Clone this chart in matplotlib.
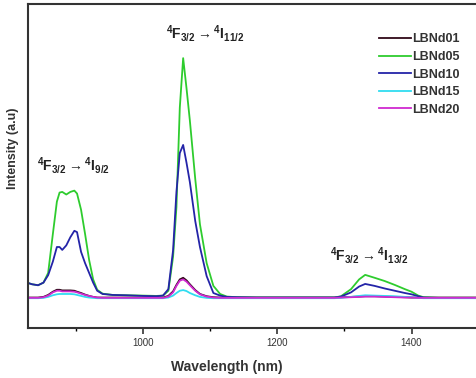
import matplotlib
matplotlib.use("Agg")
import matplotlib.pyplot as plt
from matplotlib.ticker import MultipleLocator

plt.rcParams["font.family"] = ["Liberation Sans", "DejaVu Sans"]
plt.rcParams["mathtext.fontset"] = "custom"
plt.rcParams["mathtext.rm"] = "Liberation Sans"
plt.rcParams["mathtext.bf"] = "Liberation Sans:bold"

# wavelength grid (nm)
wl = [829, 835, 844, 852, 859, 866, 872, 876, 880, 886, 892, 898, 902, 908, 914,
      920, 926, 932, 940, 955, 975, 1000, 1020, 1030, 1038, 1045, 1050, 1055, 1060,
      1065, 1070, 1078, 1085, 1095, 1105, 1115, 1125, 1140, 1170, 1200, 1250, 1285,
      1295, 1310, 1322, 1331, 1345, 1360, 1375, 1390, 1400, 1410, 1418, 1440, 1470, 1496]

lbnd05 = [0.139, 0.135, 0.132, 0.140, 0.170, 0.290, 0.390, 0.418, 0.420, 0.412, 0.420, 0.424, 0.415, 0.365, 0.290,
          0.210, 0.150, 0.118, 0.106, 0.102, 0.101, 0.100, 0.099, 0.100, 0.115, 0.220, 0.373, 0.680, 0.833,
          0.740, 0.640, 0.460, 0.320, 0.200, 0.130, 0.105, 0.097, 0.095, 0.094, 0.094, 0.094, 0.094,
          0.098, 0.120, 0.150, 0.164, 0.155, 0.145, 0.133, 0.120, 0.112, 0.100, 0.095, 0.093, 0.093, 0.093]

lbnd10 = [0.139, 0.135, 0.132, 0.140, 0.163, 0.205, 0.250, 0.250, 0.241, 0.255, 0.280, 0.300, 0.296, 0.235, 0.200,
          0.170, 0.140, 0.115, 0.105, 0.102, 0.101, 0.099, 0.098, 0.100, 0.120, 0.240, 0.420, 0.540, 0.565,
          0.510, 0.450, 0.330, 0.250, 0.160, 0.108, 0.100, 0.096, 0.095, 0.094, 0.094, 0.094, 0.094,
          0.097, 0.110, 0.128, 0.136, 0.130, 0.122, 0.115, 0.108, 0.104, 0.098, 0.094, 0.093, 0.093, 0.093]

lbnd20 = [0.093, 0.093, 0.093, 0.095, 0.100, 0.110, 0.115, 0.115, 0.113, 0.113, 0.113, 0.112, 0.110, 0.106, 0.102,
          0.099, 0.096, 0.094, 0.093, 0.093, 0.093, 0.093, 0.093, 0.093, 0.097, 0.110, 0.130, 0.146, 0.150,
          0.143, 0.132, 0.115, 0.104, 0.097, 0.094, 0.093, 0.093, 0.093, 0.093, 0.093, 0.093, 0.093,
          0.094, 0.095, 0.096, 0.097, 0.097, 0.096, 0.095, 0.094, 0.094, 0.093, 0.093, 0.093, 0.093, 0.093]

lbnd01 = [0.094, 0.094, 0.094, 0.096, 0.102, 0.112, 0.118, 0.118, 0.116, 0.116, 0.116, 0.115, 0.112, 0.108, 0.103,
          0.099, 0.096, 0.094, 0.094, 0.094, 0.094, 0.094, 0.094, 0.094, 0.099, 0.113, 0.133, 0.150, 0.155,
          0.147, 0.135, 0.117, 0.105, 0.098, 0.095, 0.094, 0.094, 0.094, 0.094, 0.094, 0.094, 0.094,
          0.095, 0.096, 0.097, 0.098, 0.098, 0.097, 0.096, 0.095, 0.094, 0.094, 0.094, 0.094, 0.094, 0.094]

lbnd15 = [0.092, 0.092, 0.092, 0.093, 0.096, 0.101, 0.104, 0.105, 0.105, 0.105, 0.105, 0.104, 0.102, 0.099, 0.096,
          0.094, 0.093, 0.092, 0.092, 0.092, 0.092, 0.092, 0.092, 0.092, 0.094, 0.100, 0.108, 0.115, 0.117,
          0.114, 0.108, 0.101, 0.096, 0.093, 0.092, 0.092, 0.092, 0.092, 0.092, 0.092, 0.092, 0.092,
          0.093, 0.096, 0.099, 0.101, 0.100, 0.099, 0.098, 0.096, 0.095, 0.093, 0.092, 0.092, 0.092, 0.092]

labels = ["LBNd01", "LBNd05", "LBNd10", "LBNd15", "LBNd20"]
series = [lbnd01, lbnd05, lbnd10, lbnd15, lbnd20]
colors = ["#300818", "#2ecc2e", "#2424a8", "#30dcf0", "#d02ad0"]

fig = plt.figure(figsize=(4.76, 3.78), dpi=100)
ax = fig.add_axes([28 / 476, 50 / 378, 1 - 28 / 476, 324 / 378])

for y, lab, c in zip(series, labels, colors):
    ax.plot(wl, y, color=c, lw=1.3, label=lab)

ax.set_xlim(829, 1496)
ax.set_ylim(0, 1)
ax.set_yticks([])
ax.xaxis.set_major_locator(MultipleLocator(200))
ax.xaxis.set_minor_locator(MultipleLocator(100))
ax.tick_params(axis="x", which="major", direction="out", length=4, width=1.2,
               labelsize=7, colors="#333333", pad=3)
ax.tick_params(axis="x", which="minor", direction="out", length=2, width=1.0)
for s in ["left", "bottom", "top"]:
    ax.spines[s].set_linewidth(1.5)
    ax.spines[s].set_color("#333333")
ax.spines["right"].set_visible(False)

ax.set_xlabel("Wavelength (nm)", fontsize=10, fontweight="bold", color="#333333")
ax.xaxis.set_label_coords((227 - 28) / 448, -0.1)
ax.set_ylabel("Intensity (a.u)", fontsize=9, fontweight="bold", color="#333333")
ax.yaxis.set_label_coords(-0.02, (328 - 148) / 324)

leg = ax.legend(loc="upper right", bbox_to_anchor=((471 - 28) / 448, (328 - 22) / 324),
                frameon=False, handlelength=2.6, handletextpad=0.1, labelspacing=0.45,
                prop={"weight": "bold", "size": 9})
for t in leg.get_texts():
    t.set_color("#333333")

# transition labels
fig.text(37 / 476, 1 - 165 / 378, r"$\mathbf{^4F_{3/2}\rightarrow{}^4I_{9/2}}$",
         fontsize=10, ha="left", va="center", color="#222222")
fig.text(166 / 476, 1 - 33 / 378, r"$\mathbf{^4F_{3/2}\rightarrow{}^4I_{11/2}}$",
         fontsize=10, ha="left", va="center", color="#222222")
fig.text(330 / 476, 1 - 256 / 378, r"$\mathbf{^4F_{3/2}\rightarrow{}^4I_{13/2}}$",
         fontsize=10, ha="left", va="center", color="#222222")

fig.savefig("out.png", dpi=100)
